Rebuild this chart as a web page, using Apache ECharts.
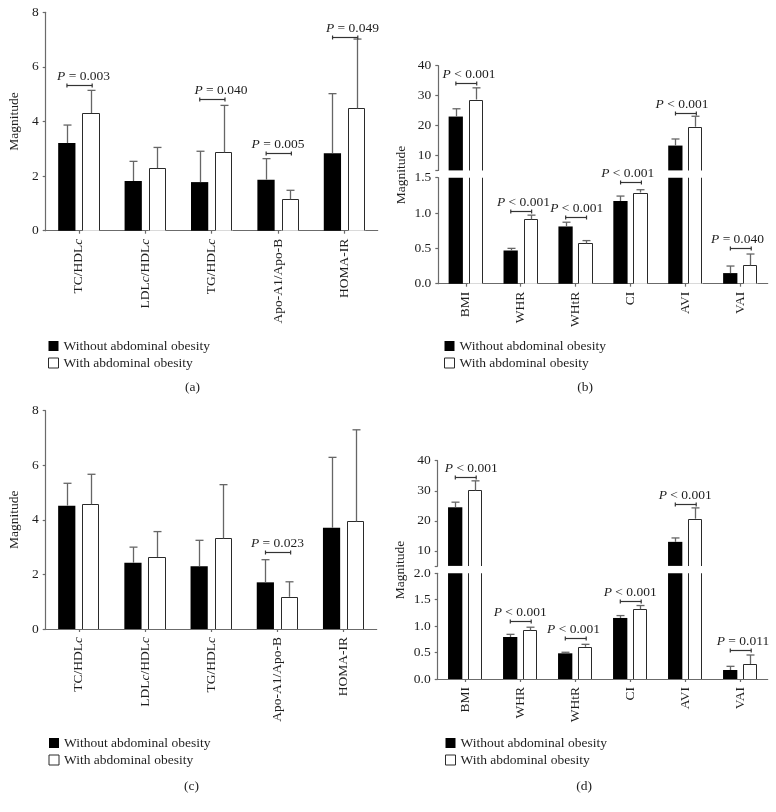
<!DOCTYPE html>
<html><head><meta charset="utf-8">
<script src="https://cdn.jsdelivr.net/npm/echarts@6/dist/echarts.min.js"></script>
<style>html,body{margin:0;padding:0;background:#fff}#c{width:776px;height:812px}</style>
</head><body><div id="c"></div>
<script>
// ---------- data ----------
const seriesNames = ['Without abdominal obesity', 'With abdominal obesity'];
const lipidCategories = ['TC/HDLc', 'LDLc/HDLc', 'TG/HDLc', 'Apo-A1/Apo-B', 'HOMA-IR'];
const anthroCategories = ['BMI', 'WHR', 'WHtR', 'CI', 'AVI', 'VAI'];

// panel (a)
const aWithout   = [3.21, 1.82, 1.78, 1.87, 2.84];
const aWithoutSD = [0.66, 0.72, 1.13, 0.77, 2.18];
const aWith      = [4.31, 2.29, 2.87, 1.15, 4.48];
const aWithSD    = [0.83, 0.76, 1.72, 0.33, 2.54];
// [category index, bracket level, p text, label shift (bands)]
const aPValues = [[0, 5.34, '= 0.003', 0.07], [2, 4.81, '= 0.040', 0.14], [3, 2.85, '= 0.005', 0], [4, 7.11, '= 0.049', 0.12]];

// panel (b)
const bWithout   = [23.0, 0.47, 0.81, 1.17, 13.3, 0.15];
const bWithoutSD = [2.6, 0.03, 0.06, 0.07, 2.2, 0.10];
const bWith      = [28.7, 0.91, 0.57, 1.29, 19.6, 0.26];
const bWithSD    = [3.9, 0.06, 0.04, 0.04, 3.5, 0.16];
const bPValues = [[0, 34.3, '< 0.001', 0.06], [1, 1.033, '< 0.001', 0.05], [2, 0.94, '< 0.001', 0.02], [3, 1.443, '< 0.001', -0.05], [4, 24.24, '< 0.001', -0.06], [5, 0.505, '= 0.040', -0.05]];

// panel (c)
const cWithout   = [4.52, 2.43, 2.30, 1.71, 3.71];
const cWithoutSD = [0.82, 0.57, 0.95, 0.83, 2.58];
const cWith      = [4.57, 2.64, 3.32, 1.18, 3.94];
const cWithSD    = [1.10, 0.93, 1.97, 0.55, 3.36];
const cPValues = [[3, 2.81, '= 0.023', 0]];

// panel (d)
const dWithout   = [24.5, 0.795, 0.486, 1.155, 13.0, 0.17];
const dWithoutSD = [1.7, 0.05, 0.02, 0.045, 1.3, 0.07];
const dWith      = [30.1, 0.92, 0.61, 1.32, 20.7, 0.284];
const dWithSD    = [3.2, 0.06, 0.046, 0.07, 3.6, 0.17];
const dPValues = [[0, 34.7, '< 0.001', 0.11], [1, 1.098, '< 0.001', 0], [2, 0.782, '< 0.001', -0.03], [3, 1.47, '< 0.001', 0], [4, 25.6, '< 0.001', 0], [5, 0.543, '= 0.011', 0.05]];

// axis ticks
const lipidTicks = [0, 2, 4, 6, 8];
const upperTicks = [5, 10, 20, 30, 40];
const upperLabels = [10, 20, 30, 40];
const bLowerMax = 1.5;
const dLowerMax = 2.0;
const captions = ['(a)', '(b)', '(c)', '(d)'];

// ---------- style ----------
const FONT = '"Liberation Serif", "Times New Roman", serif';
const TXT = '#1e1e1e';
const AX = '#6b6b6b';
const EDGE = '#2a2a2a';
const BAR_W = 0.26, BAR_GAP = 0.40;
const OFFSET = BAR_W * (1 + BAR_GAP) / 2;

const chart = echarts.init(document.getElementById('c'), null, {renderer: 'canvas'});

const grids = [
  {left: 45.7, top: 12.3, width: 332, height: 218.4},
  {left: 438.3, top: 65.7, width: 329.4, height: 104.7},
  {left: 438.3, top: 177.7, width: 329.4, height: 106},
  {left: 45.7, top: 410.7, width: 331, height: 218.3},
  {left: 437.7, top: 460.7, width: 330, height: 105.2},
  {left: 437.7, top: 573.3, width: 330, height: 105.7}
].map(g => Object.assign({containLabel: false, outerBoundsMode: 'none'}, g));

function catAxis(gi, cats, show) {
  return {
    type: 'category', gridIndex: gi, data: cats, show: show,
    axisLine: {show: true, lineStyle: {color: AX, width: 1.2}},
    axisTick: {show: true, alignWithLabel: true, length: 3, lineStyle: {color: AX, width: 1.2}},
    axisLabel: {
      show: true, interval: 0, rotate: 90, margin: 8, fontSize: 13.5, fontFamily: FONT, color: TXT,
      formatter: v => v.replace(/DLc/g, 'DL{i|c}'),
      rich: {i: {fontStyle: 'italic', fontSize: 13.5, fontFamily: FONT, color: TXT}}
    },
    splitLine: {show: false}
  };
}
function valAxis(gi, min, max, interval, opts) {
  const ax = {
    type: 'value', gridIndex: gi, min: min, max: max, interval: interval,
    axisLine: {show: true, lineStyle: {color: AX, width: 1.2}},
    axisTick: {show: true, length: 3, lineStyle: {color: AX, width: 1.2}},
    axisLabel: {show: true, margin: 7, fontSize: 13.5, fontFamily: FONT, color: TXT},
    splitLine: {show: false}
  };
  if (opts) {
    if (opts.name) Object.assign(ax, {name: opts.name, nameLocation: 'middle', nameGap: opts.nameGap,
      nameTextStyle: {fontSize: 13.5, fontFamily: FONT, color: TXT}});
    if (opts.decimals) ax.axisLabel.formatter = v => v.toFixed(1);
    if (opts.labels) ax.axisLabel.customValues = opts.labels;
    if (opts.ticks) ax.axisTick.customValues = opts.ticks;
  }
  return ax;
}

const xAxes = [
  catAxis(0, lipidCategories, true),
  catAxis(1, anthroCategories, false),
  catAxis(2, anthroCategories, true),
  catAxis(3, lipidCategories, true),
  catAxis(4, anthroCategories, false),
  catAxis(5, anthroCategories, true)
];
const yAxes = [
  valAxis(0, lipidTicks[0], lipidTicks[lipidTicks.length - 1], 2, {name: 'Magnitude', nameGap: 24}),
  valAxis(1, upperTicks[0], upperTicks[upperTicks.length - 1], 5, {labels: upperLabels, ticks: upperTicks}),
  valAxis(2, 0, bLowerMax, 0.5, {decimals: true}),
  valAxis(3, lipidTicks[0], lipidTicks[lipidTicks.length - 1], 2, {name: 'Magnitude', nameGap: 24}),
  valAxis(4, upperTicks[0], upperTicks[upperTicks.length - 1], 5, {labels: upperLabels, ticks: upperTicks}),
  valAxis(5, 0, dLowerMax, 0.5, {decimals: true})
];

function barSeries(name, data, gi, black) {
  return {
    type: 'bar', name: name, data: data, xAxisIndex: gi, yAxisIndex: gi,
    barWidth: (BAR_W * 100) + '%', barGap: (BAR_GAP * 100) + '%', clip: true, silent: true,
    itemStyle: black ? {color: '#000', borderWidth: 0} : {color: '#fff', borderWidth: 0}
  };
}
// outline of the white bars, clipped to the grid so broken bars stay open at the break
function outlineSeries(values, gi, keep) {
  const data = [];
  values.forEach((v, i) => { if (keep(v)) data.push([i, v]); });
  return {
    type: 'custom', xAxisIndex: gi, yAxisIndex: gi, silent: true, z: 3, clip: true, data: data,
    renderItem: (params, api) => {
      const cat = api.value(0), v = api.value(1);
      const band = api.size([1, 0])[0];
      const p0 = api.coord([cat, 0]);
      const p1 = api.coord([cat, v]);
      const xc = p0[0] + band * OFFSET;
      const hw = band * BAR_W / 2;
      const xl = Math.round(xc - hw) + 0.5, xr = Math.round(xc + hw) - 0.5;
      const yt = Math.round(p1[1]) + 0.5;
      const st = {stroke: EDGE, lineWidth: 1};
      return {type: 'group', children: [
        {type: 'line', shape: {x1: xl, y1: p0[1], x2: xl, y2: yt}, style: st},
        {type: 'line', shape: {x1: xr, y1: p0[1], x2: xr, y2: yt}, style: st},
        {type: 'line', shape: {x1: xl, y1: yt, x2: xr, y2: yt}, style: st}
      ]};
    }
  };
}
function errSeries(values, sds, gi, side, keep) {
  const data = [];
  values.forEach((v, i) => { if (keep(v)) data.push([i, v, sds[i]]); });
  return {
    type: 'custom', xAxisIndex: gi, yAxisIndex: gi, silent: true, z: 3, data: data,
    renderItem: (params, api) => {
      const cat = api.value(0), v = api.value(1), sd = api.value(2);
      const band = api.size([1, 0])[0];
      const p0 = api.coord([cat, v]);
      const p1 = api.coord([cat, v + sd]);
      const x = Math.round(p0[0] + side * band * OFFSET) + 0.5;
      const st = {stroke: '#666', lineWidth: 1.3};
      return {type: 'group', children: [
        {type: 'line', shape: {x1: x, y1: p0[1], x2: x, y2: p1[1]}, style: st},
        {type: 'line', shape: {x1: x - 4, y1: p1[1], x2: x + 4, y2: p1[1]}, style: st}
      ]};
    }
  };
}
function pSeries(list, gi) {
  return {
    type: 'custom', xAxisIndex: gi, yAxisIndex: gi, silent: true, z: 4,
    data: list.map(p => [p[0], p[1], p[3]]),
    renderItem: (params, api) => {
      const item = list[params.dataIndex];
      const cat = api.value(0), y = api.value(1), dx = api.value(2);
      const band = api.size([1, 0])[0];
      const pt = api.coord([cat, y]);
      const xL = pt[0] - 0.18 * band, xR = pt[0] + 0.20 * band;
      const yy = Math.round(pt[1]) + 0.5;
      const st = {stroke: '#333', lineWidth: 1.2};
      return {type: 'group', children: [
        {type: 'line', shape: {x1: xL, y1: yy, x2: xR, y2: yy}, style: st},
        {type: 'line', shape: {x1: xL, y1: yy - 2, x2: xL, y2: yy + 2}, style: st},
        {type: 'line', shape: {x1: xR, y1: yy - 2, x2: xR, y2: yy + 2}, style: st},
        {type: 'text', x: pt[0] + dx * band, y: yy - 9, style: {
          text: '{i|P} ' + item[2], fill: TXT, fontSize: 13.5, fontFamily: FONT,
          align: 'center', verticalAlign: 'middle',
          rich: {i: {fontStyle: 'italic', fontSize: 13.5, fontFamily: FONT, fill: TXT}}
        }}
      ]};
    }
  };
}

const series = [];
function simplePanel(gi, wo, woSD, w, wSD, pv) {
  series.push(barSeries(seriesNames[0], wo, gi, true));
  series.push(barSeries(seriesNames[1], w, gi, false));
  series.push(outlineSeries(w, gi, () => true));
  series.push(errSeries(wo, woSD, gi, -1, () => true));
  series.push(errSeries(w, wSD, gi, 1, () => true));
  series.push(pSeries(pv, gi));
}
function brokenPanel(gu, gl, lowerMax, wo, woSD, w, wSD, pv) {
  const up = arr => arr.map(v => v > lowerMax ? v : '-');
  series.push(barSeries(seriesNames[0], up(wo), gu, true));
  series.push(barSeries(seriesNames[1], up(w), gu, false));
  series.push(barSeries(seriesNames[0], wo, gl, true));
  series.push(barSeries(seriesNames[1], w, gl, false));
  series.push(outlineSeries(w, gu, v => v > lowerMax));
  series.push(outlineSeries(w, gl, () => true));
  series.push(errSeries(wo, woSD, gu, -1, v => v > lowerMax));
  series.push(errSeries(w, wSD, gu, 1, v => v > lowerMax));
  series.push(errSeries(wo, woSD, gl, -1, v => v <= lowerMax));
  series.push(errSeries(w, wSD, gl, 1, v => v <= lowerMax));
  series.push(pSeries(pv.filter(p => p[1] > lowerMax * 2), gu));
  series.push(pSeries(pv.filter(p => p[1] <= lowerMax * 2), gl));
}
simplePanel(0, aWithout, aWithoutSD, aWith, aWithSD, aPValues);
brokenPanel(1, 2, bLowerMax, bWithout, bWithoutSD, bWith, bWithSD, bPValues);
simplePanel(3, cWithout, cWithoutSD, cWith, cWithSD, cPValues);
brokenPanel(4, 5, dLowerMax, dWithout, dWithoutSD, dWith, dWithSD, dPValues);

function legend(left, top) {
  return {
    data: [{name: seriesNames[0]}, {name: seriesNames[1], itemStyle: {color: '#fff', borderColor: EDGE, borderWidth: 1}}],
    left: left, top: top, orient: 'vertical', padding: 0,
    icon: 'rect', itemWidth: 10, itemHeight: 10, itemGap: 3, selectedMode: false,
    textStyle: {fontSize: 13.5, fontFamily: FONT, color: TXT, lineHeight: 14}
  };
}

function capText(text, x, y) {
  return {type: 'text', x: x, y: y, silent: true, style: {text: text, fill: TXT, fontSize: 13.5, fontFamily: FONT, align: 'center', verticalAlign: 'middle'}};
}
function nameText(x, y) {
  return {type: 'text', x: x, y: y, rotation: Math.PI / 2, silent: true,
    style: {text: 'Magnitude', fill: TXT, fontSize: 13.5, fontFamily: FONT, align: 'center', verticalAlign: 'middle'}};
}

chart.setOption({
  animation: false,
  backgroundColor: '#fff',
  textStyle: {fontFamily: FONT},
  grid: grids,
  xAxis: xAxes,
  yAxis: yAxes,
  legend: [legend(48, 339), legend(444, 339), legend(48.5, 736), legend(445, 736)],
  series: series,
  graphic: [
    capText(captions[0], 192.5, 387), capText(captions[1], 585, 387),
    capText(captions[2], 191.5, 786), capText(captions[3], 584, 786),
    nameText(401.7, 175), nameText(400, 570)
  ]
});
</script></body></html>
